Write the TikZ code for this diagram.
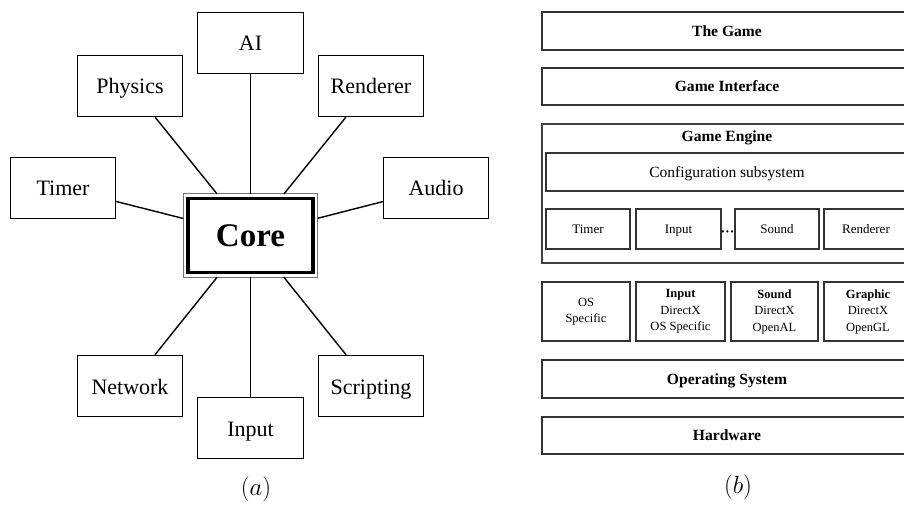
\documentclass[tikz,border=0pt]{standalone}
\usepackage{fontspec}
\setmainfont{Liberation Serif}
\begin{document}
\begin{tikzpicture}[x=1pt,y=-1pt,
  sat/.style={draw, line width=1.4pt, minimum width=105pt, minimum height=61pt, inner sep=0pt,
              text height=16pt, text depth=0pt, font=\fontsize{22}{26}\selectfont},
  link/.style={line width=1.4pt},
  lay/.style={draw=black!80, line width=1.1pt, inner sep=0pt, align=center},
  bigtitle/.style={text height=10.5pt, text depth=0pt, font=\bfseries\fontsize{15.6}{18}\selectfont},
  smalltxt/.style={text height=9pt, text depth=0pt, font=\fontsize{13}{16}\selectfont},
  lowtxt/.style={font=\fontsize{12.5}{16.5}\selectfont},
  subcap/.style={font=\fontsize{26}{30}\selectfont}]
\useasboundingbox (0,0) rectangle (904,505);
% ---------- (a) ----------
\node[draw, line width=3.2pt, minimum width=125pt, minimum height=74pt, inner sep=0pt, outer sep=4.6pt,
      font=\bfseries\fontsize{33}{36}\selectfont] (core) at (250.5,235.5) {Core};
\draw[black!55, line width=1.1pt] (core.north west) rectangle (core.south east);
\node[sat, minimum width=106pt] (ai) at (250.5,43)  {AI};
\node[sat] (phys) at (130,86)    {Physics};
\node[sat] (rend) at (371,86)    {Renderer};
\node[sat] (tim)  at (63,188)    {Timer};
\node[sat] (aud)  at (436,188)   {Audio};
\node[sat] (net)  at (130,386)   {Network};
\node[sat, minimum width=106pt] (inp) at (250.5,428) {Input};
\node[sat] (scr)  at (371,386)   {Scripting};
\foreach \n in {ai,phys,rend,tim,aud,net,inp,scr}
  \draw[link] (core) -- (\n);
\node[subcap] (capa) at (256,489) {$(a)$};
% ---------- (b) ----------
\node[lay, minimum width=370pt, minimum height=38pt, bigtitle] (game) at (727,31) {The Game};
\node[lay, minimum width=370pt, minimum height=37pt, bigtitle] (gint) at (727,86.5) {Game Interface};
\node[lay, line width=1.4pt, draw=black!75, minimum width=370pt, minimum height=139pt] (eng) at (727,193.5) {};
\node[bigtitle, inner sep=0pt] (engt) at (727,136) {Game Engine};
\node[lay, minimum width=362pt, minimum height=38pt, text height=11pt, text depth=0pt,
      font=\fontsize{15.5}{18}\selectfont] (conf) at (727,172) {Configuration subsystem};
\node[lay, minimum width=84pt, minimum height=40pt, smalltxt] (etim) at (588,229) {Timer};
\node[lay, minimum width=85pt, minimum height=40pt, smalltxt] (einp) at (678.5,229) {Input};
\node[inner sep=0pt, font=\bfseries\fontsize{14}{14}\selectfont] (dots) at (727.5,233.5) {···};
\node[lay, minimum width=84pt, minimum height=40pt, smalltxt] (esnd) at (777,229) {Sound};
\node[lay, minimum width=84pt, minimum height=40pt, smalltxt] (eren) at (866,229) {Renderer};
\node[lay, minimum width=88pt, minimum height=59pt, lowtxt] (los) at (586,311.5) {OS\\Specific};
\node[lay, minimum width=89pt, minimum height=59pt, lowtxt] (linp) at (680.5,311.5) {\textbf{Input}\\DirectX\\OS Specific};
\node[lay, minimum width=87pt, minimum height=59pt, lowtxt] (lsnd) at (774.5,311.5) {\textbf{Sound}\\DirectX\\OpenAL};
\node[lay, minimum width=88pt, minimum height=59pt, lowtxt] (lgra) at (868,311.5) {\textbf{Graphic}\\DirectX\\OpenGL};
\node[lay, minimum width=370pt, minimum height=38pt, bigtitle] (os) at (727,379) {Operating System};
\node[lay, minimum width=370pt, minimum height=37pt, bigtitle] (hw) at (727,435.5) {Hardware};
\node[subcap] (capb) at (738,487) {$(b)$};
\end{tikzpicture}
\end{document}
